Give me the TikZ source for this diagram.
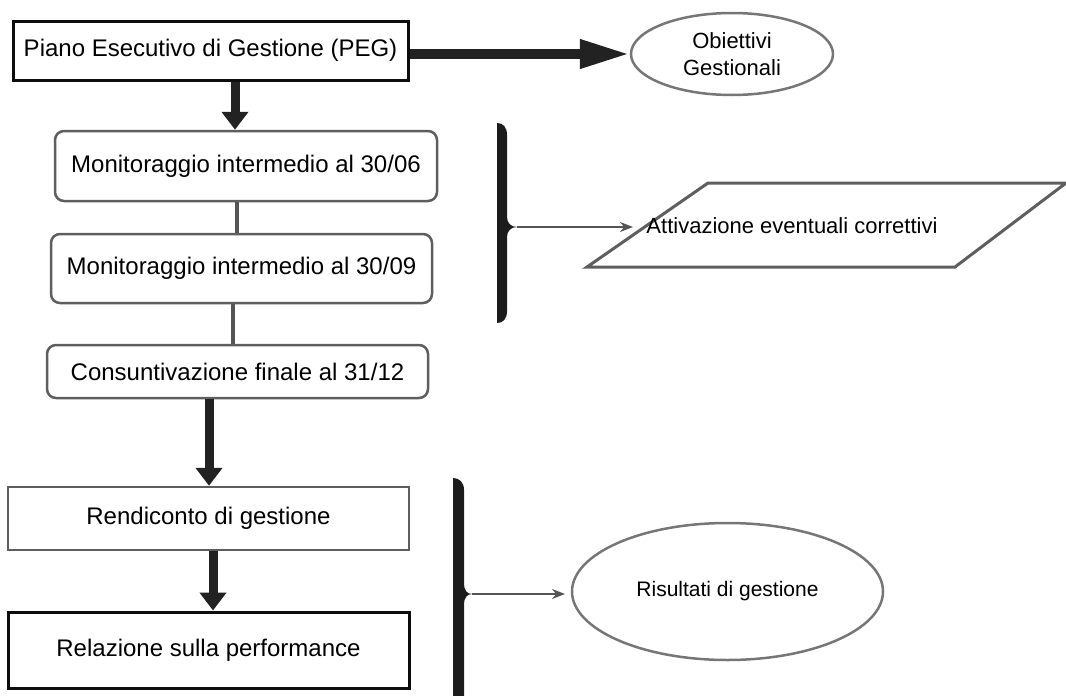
\documentclass[tikz,border=0pt]{standalone}
\usepackage{fontspec}
\setmainfont{Liberation Sans}
\usetikzlibrary{arrows.meta,shapes.geometric,calc}
\definecolor{arrowcol}{HTML}{222222}
\definecolor{boxgray}{HTML}{5E5E5E}
\definecolor{linegray}{HTML}{555555}
\definecolor{bracecol}{HTML}{1C1C1C}
\tikzset{
  bigtext/.style={font=\fontsize{24}{28}\selectfont},
  midtext/.style={font=\fontsize{22}{27}\selectfont},
  blackbox/.style={draw=black!95, line width=3pt, inner sep=0pt, bigtext},
  graybox/.style={draw=boxgray, line width=2.5pt, inner sep=0pt, bigtext},
  roundbox/.style={graybox, rounded corners=9pt},
  ell/.style={ellipse, draw=boxgray!85, line width=2.5pt, inner sep=0pt, midtext, align=center},
  bigarrow/.style={draw=arrowcol, line width=9pt, -{Triangle[width=26pt,length=18pt]}},
  hugearrow/.style={draw=arrowcol, line width=10pt, -{Triangle[width=27pt,length=50pt]}},
  joinline/.style={draw=linegray, line width=3.5pt},
  thinarrow/.style={draw=linegray, line width=2pt, -{Stealth[length=13pt,width=10pt]}},
  bracefill/.style={fill=bracecol}
}
\begin{document}
\begin{tikzpicture}[x=1pt,y=-1pt]
\useasboundingbox (0,0) rectangle (1066,696);
% nodes
\node[blackbox, minimum width=395pt, minimum height=59pt] (peg) at (210.5,50.5) {Piano Esecutivo di Gestione (PEG)};
\node[ell, minimum width=202pt, minimum height=82pt] (obj) at (732,54) {Obiettivi\\Gestionali};
\node[roundbox, minimum width=382pt, minimum height=70pt] (mon1) at (246,166) {Monitoraggio intermedio al 30/06};
\node[roundbox, minimum width=381pt, minimum height=69pt] (mon2) at (241.5,268.5) {Monitoraggio intermedio al 30/09};
\node[roundbox, minimum width=381pt, minimum height=53pt] (cons) at (237.5,371.5) {Consuntivazione finale al 31/12};
\node[graybox, minimum width=401pt, minimum height=63pt] (rend) at (208.5,518.5) {Rendiconto di gestione};
\node[blackbox, minimum width=401pt, minimum height=76pt] (rel) at (208.5,650) {Relazione sulla performance};
\node[ell, minimum width=311pt, minimum height=137pt, font=\fontsize{21}{25}\selectfont] (res) at (727.5,591.5) {Risultati di gestione};
% parallelogram
\draw[draw=boxgray, line width=3pt, line join=miter] (587,267) -- (955,267) -- (1066,183) -- (708,183) -- cycle;
\node[midtext] (act) at (792,226) {Attivazione eventuali correttivi};
% connectors
\draw[hugearrow] (peg.east |- obj.west) -- (obj.west);
\draw[bigarrow] ([xshift=24.5pt]peg.south) -- ([xshift=-11pt]mon1.north);
\draw[joinline] ([xshift=-9pt]mon1.south) -- ([xshift=-4.5pt]mon2.north);
\draw[joinline] ([xshift=-8.5pt]mon2.south) -- ([xshift=-4.5pt]cons.north);
\draw[bigarrow] ([xshift=-28.5pt]cons.south) -- ([xshift=0.5pt]rend.north);
\draw[bigarrow] ([xshift=4.5pt]rend.south) -- ([xshift=4.5pt]rel.north);
% braces
\coordinate (b1tip) at (517,227);
\coordinate (a1end) at (633,227);
\fill[bracefill] (497,123) .. controls (503,123) and (507,127) .. (507,135) -- (507,217)
  .. controls (507,223) and (511,227) .. (b1tip)
  .. controls (511,227) and (507,231) .. (507,237) -- (507,311)
  .. controls (507,319) and (503,323) .. (497,323) -- cycle;
\draw[thinarrow] (b1tip) -- (a1end);
\coordinate (b2tip) at (472,594);
\coordinate (a2end) at (565,594);
\fill[bracefill] (453,478) .. controls (459,478) and (464,482) .. (464,490) -- (464,584)
  .. controls (464,590) and (467,594) .. (b2tip)
  .. controls (467,594) and (464,598) .. (464,604) -- (464,710) -- (453,710) -- cycle;
\draw[thinarrow] (b2tip) -- (a2end);
\end{tikzpicture}
\end{document}
